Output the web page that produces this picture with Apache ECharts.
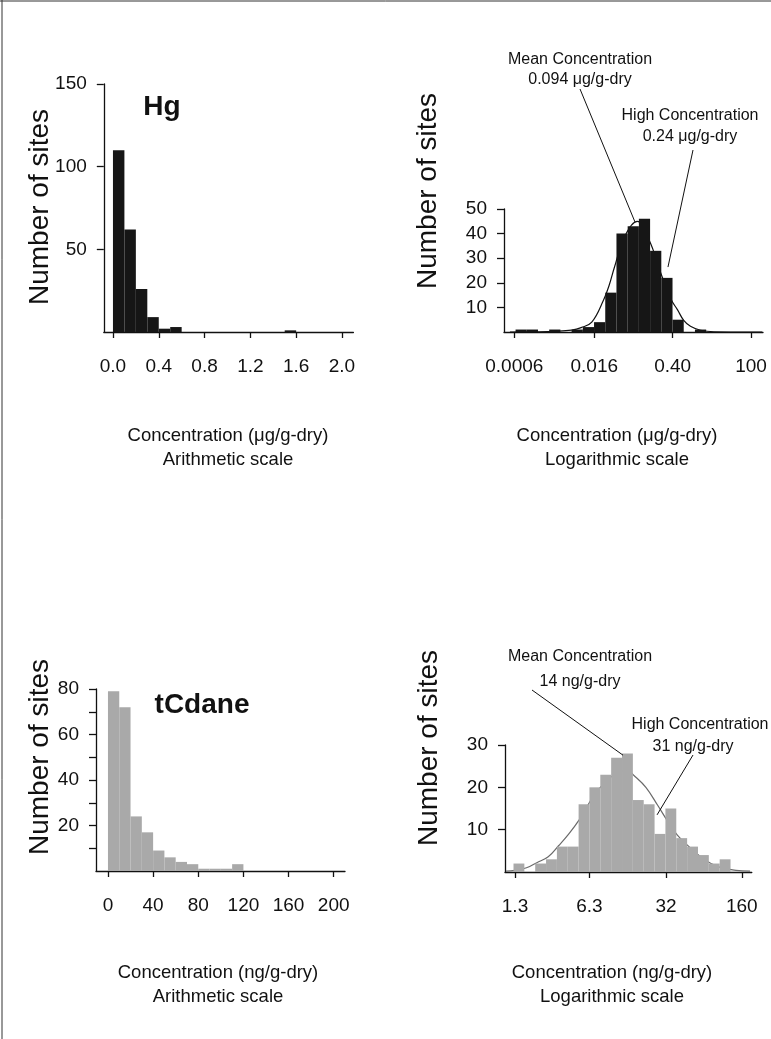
<!DOCTYPE html>
<html>
<head>
<meta charset="utf-8">
<script src="https://cdn.jsdelivr.net/npm/echarts@6/dist/echarts.min.js"></script>
<style>
  html, body { margin: 0; padding: 0; background: #fff; }
  #main { width: 771px; height: 1039px; }
</style>
</head>
<body>
<div id="main"></div>
<script>
// Hg, arithmetic scale: bin lower edge (ug/g), counts
var hgArithBins = [0, 0.1, 0.2, 0.3, 0.4, 0.5, 1.5];
var hgArithCounts = [110, 62, 26, 9, 2, 3, 1];
var hgArithTicks = [0, 0.4, 0.8, 1.2, 1.6, 2.0];

// Hg, log scale: bin lower edge (log10 ug/g), counts
var hgLogBins = [-3.2, -3.0, -2.6, -2.2, -2.0, -1.8, -1.6, -1.4, -1.2, -1.0, -0.8, -0.6, -0.4, 0.0];
var hgLogCounts = [1, 1, 1, 1, 2, 4, 16, 40, 43, 46, 33, 22, 5, 1];
var hgLogTickConc = [0.0006, 0.016, 0.40, 10];
var hgLogTickLabels = ['0.0006', '0.016', '0.40', '100'];
// fitted curve (log10 conc, sites)
var hgFitX = [-3.3, -2.8, -2.5, -2.2, -2.03, -1.84, -1.63, -1.53, -1.44, -1.25, -1.03, -0.81, -0.61, -0.42, -0.31, -0.2, -0.08, 0.1, 0.34, 1.0, 1.2];
var hgFitY = [0, 0.1, 0.3, 0.8, 1.8, 4, 13, 19, 26, 39, 45, 37, 24, 13, 9, 4.7, 2.3, 0.7, 0.1, 0, 0];

// tCdane, arithmetic scale (ng/g)
var tcArithBins = [0, 10, 20, 30, 40, 50, 60, 70, 80, 90, 100, 110];
var tcArithCounts = [79, 72, 24, 17, 9, 6, 4, 3, 1, 1, 1, 3];
var tcArithTicks = [0, 40, 80, 120, 160, 200];

// tCdane, log scale (log10 ng/g)
var tcLogBins = [0.1, 0.3, 0.4, 0.5, 0.6, 0.7, 0.8, 0.9, 1.0, 1.1, 1.2, 1.3, 1.4, 1.5, 1.6, 1.7, 1.8, 1.9, 2.0];
var tcLogCounts = [2, 2, 3, 6, 6, 16, 20, 23, 27, 28, 17, 16, 9, 15, 8, 6, 4, 2, 3];
var tcLogTickConc = [1.3, 6.3, 32, 160];
var tcLogTickLabels = ['1.3', '6.3', '32', '160'];
var tcFitX = [0.03, 0.114, 0.22, 0.315, 0.42, 0.515, 0.61, 0.71, 0.9, 1.15, 1.21, 1.32, 1.43, 1.52, 1.61, 1.72, 1.81, 1.92, 2.03, 2.15, 2.28];
var tcFitY = [0.2, 0.4, 1.0, 2.2, 3.6, 6.2, 9, 12.5, 20, 24, 22.8, 20, 15.7, 12, 8.7, 5.9, 3.9, 2, 0.9, 0.4, 0.2];

var FONT = "'Liberation Sans', Arial, Helvetica, sans-serif";
var INK = '#111';

function toLog(v){ return Math.log10(v); }

function histData(bins, counts, width){
    return bins.map(function(b, i){ return [b, b + width, counts[i]]; });
}

function histSeries(idx, data, color){
    return {
        type: 'custom',
        xAxisIndex: idx, yAxisIndex: idx,
        z: 3,
        encode: {x: [0, 1], y: 2},
        data: data,
        renderItem: function(params, api){
            var p0 = api.coord([api.value(0), api.value(2)]);
            var p1 = api.coord([api.value(1), 0]);
            return {
                type: 'rect',
                shape: {x: p0[0], y: p0[1], width: p1[0] - p0[0], height: p1[1] - p0[1]},
                style: {fill: color}
            };
        }
    };
}

function fitSeries(idx, xs, ys, color){
    return {
        type: 'line', xAxisIndex: idx, yAxisIndex: idx, z: 2,
        smooth: 0.4, symbol: 'none', silent: true,
        lineStyle: {color: color, width: 1.2},
        data: xs.map(function(x, i){ return [x, ys[i]]; })
    };
}

function xAxis(idx, min, max, ticks, fmt){
    return {
        type: 'value', gridIndex: idx, min: min, max: max,
        axisLine: {show: true, onZero: false, lineStyle: {color: INK, width: 1.3}},
        axisTick: {show: true, length: 6, customValues: ticks, lineStyle: {color: INK, width: 1.3}},
        axisLabel: {customValues: ticks, formatter: fmt, fontSize: 19, fontFamily: FONT, color: INK, margin: 25},
        splitLine: {show: false}
    };
}

function yAxis(idx, max, ticks, labels){
    return {
        type: 'value', gridIndex: idx, min: 0, max: max,
        axisLine: {show: true, onZero: false, lineStyle: {color: INK, width: 1.3}},
        axisTick: {show: true, length: 7, customValues: ticks, lineStyle: {color: INK, width: 1.3}},
        axisLabel: {customValues: labels, fontSize: 19, fontFamily: FONT, color: INK, margin: 17},
        splitLine: {show: false}
    };
}

function labelFrom(positions, labels){
    return function(v){
        for (var i = 0; i < positions.length; i++) {
            if (Math.abs(positions[i] - v) < 1e-6) return labels[i];
        }
        return '';
    };
}

var hgLogTicks = hgLogTickConc.map(toLog);
var tcLogTicks = tcLogTickConc.map(toLog);

var myChart = echarts.init(document.getElementById('main'));

option = {
    backgroundColor: '#fff',
    animation: false,
    grid: [
        {left: 103.8, top: 84, width: 249.6, height: 248},
        {left: 504, top: 209, width: 259, height: 123},
        {left: 96, top: 689, width: 249, height: 182},
        {left: 505, top: 745, width: 246.8, height: 127}
    ],
    xAxis: [
        xAxis(0, -0.08, 2.1, hgArithTicks, function(v){ return v.toFixed(1); }),
        xAxis(1, -3.406, 1.214, hgLogTicks, labelFrom(hgLogTicks, hgLogTickLabels)),
        xAxis(2, -10.6, 210, tcArithTicks, function(v){ return String(Math.round(v)); }),
        xAxis(3, 0.0217, 2.296, tcLogTicks, labelFrom(tcLogTicks, tcLogTickLabels))
    ],
    yAxis: [
        yAxis(0, 150, [50, 100, 150], [50, 100, 150]),
        yAxis(1, 50, [10, 20, 30, 40, 50], [10, 20, 30, 40, 50]),
        yAxis(2, 80, [10, 20, 30, 40, 50, 60, 70, 80], [20, 40, 60, 80]),
        yAxis(3, 30, [10, 20, 30], [10, 20, 30])
    ],
    series: [
        histSeries(0, histData(hgArithBins, hgArithCounts, 0.1), '#161616'),
        fitSeries(1, hgFitX, hgFitY, '#111'),
        histSeries(1, histData(hgLogBins, hgLogCounts, 0.2), '#161616'),
        histSeries(2, histData(tcArithBins, tcArithCounts, 10), '#a9a9a9'),
        fitSeries(3, tcFitX, tcFitY, '#6a6a6a'),
        histSeries(3, histData(tcLogBins, tcLogCounts, 0.1), '#a9a9a9')
    ]
};

myChart.setOption(option);

function txt(x, y, s, size, extra){
    var st = {text: s, x: 0, y: 0, fill: INK, font: (extra && extra.bold ? 'bold ' : '') + size + 'px ' + FONT,
        textAlign: 'center', textVerticalAlign: 'middle'};
    var el = {type: 'text', x: x, y: y, style: st, z: 10};
    if (extra && extra.rotate) el.rotation = Math.PI / 2;
    return el;
}

function leader(from, gridIdx, tipData){
    var tip = myChart.convertToPixel({gridIndex: gridIdx}, tipData);
    return {type: 'line', z: 10, shape: {x1: from[0], y1: from[1], x2: tip[0], y2: tip[1]},
        style: {stroke: INK, lineWidth: 1}};
}

var g = [
    // frame edges
    {type: 'line', shape: {x1: 0, y1: 1, x2: 771, y2: 1}, style: {stroke: '#333', lineWidth: 1}},
    {type: 'line', shape: {x1: 2, y1: 0, x2: 2, y2: 1039}, style: {stroke: '#333', lineWidth: 1}},

    txt(162, 107, 'Hg', 28, {bold: true}),
    txt(202, 705, 'tCdane', 28, {bold: true}),

    txt(40, 207, 'Number of sites', 28, {rotate: true}),
    txt(428, 191, 'Number of sites', 28, {rotate: true}),
    txt(40, 757, 'Number of sites', 28, {rotate: true}),
    txt(429, 748, 'Number of sites', 28, {rotate: true}),

    txt(228, 436, 'Concentration (\u03bcg/g-dry)', 18.5),
    txt(228, 460, 'Arithmetic scale', 18.5),
    txt(617, 436, 'Concentration (\u03bcg/g-dry)', 18.5),
    txt(617, 460, 'Logarithmic scale', 18.5),
    txt(218, 973, 'Concentration (ng/g-dry)', 18.5),
    txt(218, 997, 'Arithmetic scale', 18.5),
    txt(612, 973, 'Concentration (ng/g-dry)', 18.5),
    txt(612, 997, 'Logarithmic scale', 18.5),

    txt(580, 60, 'Mean Concentration', 16),
    txt(580, 80, '0.094 \u03bcg/g-dry', 16),
    txt(690, 116, 'High Concentration', 16),
    txt(690, 137, '0.24 \u03bcg/g-dry', 16),
    leader([580, 89], 1, [-1.069, 44.7]),
    leader([693, 150], 1, [-0.481, 26.4]),

    txt(580, 657, 'Mean Concentration', 16),
    txt(580, 682, '14 ng/g-dry', 16),
    txt(700, 725, 'High Concentration', 16),
    txt(693, 747, '31 ng/g-dry', 16),
    leader([532, 690], 3, [1.109, 27.6]),
    leader([693, 755], 3, [1.423, 13.5])
];

myChart.setOption({graphic: g});
</script>
</body>
</html>
